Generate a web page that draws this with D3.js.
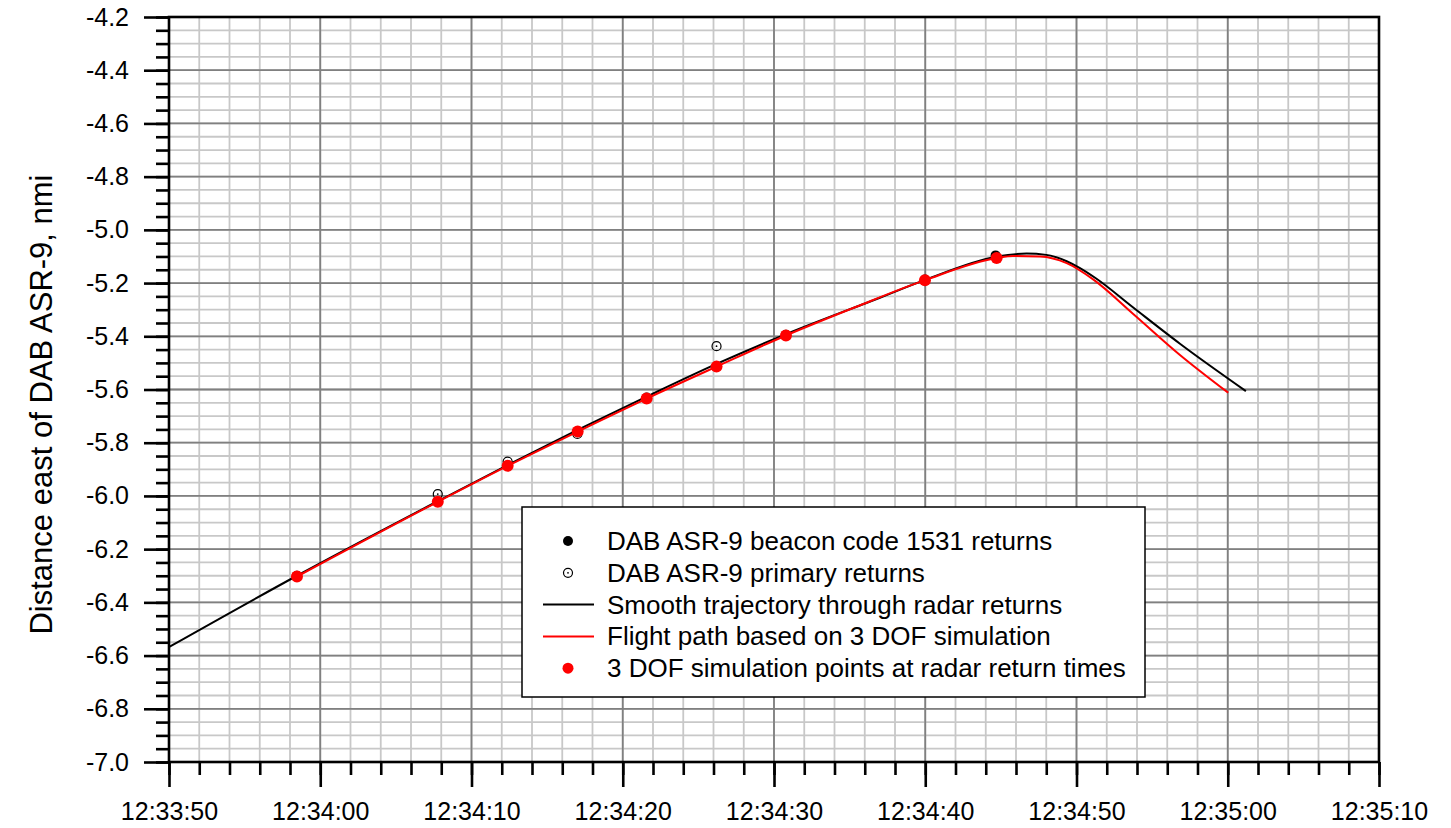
<!DOCTYPE html>
<html>
<head>
<meta charset="utf-8">
<script src="https://cdn.jsdelivr.net/npm/d3@7"></script>
<style>
    body { margin: 0; background: #fff; }
    svg text { font-family: "Liberation Sans", Arial, sans-serif; fill: #000; }
</style>
</head>
<body>
<div id="chart"></div>
<script>
// time axis ticks and labels
const xTickLabels = ["12:33:50", "12:34:00", "12:34:10", "12:34:20", "12:34:30", "12:34:40", "12:34:50", "12:35:00", "12:35:10"];
const yTickValues = [-4.2, -4.4, -4.6, -4.8, -5.0, -5.2, -5.4, -5.6, -5.8, -6.0, -6.2, -6.4, -6.6, -6.8, -7.0];

// DAB ASR-9 beacon code 1531 returns
const beaconTimes = ["12:33:58.46", "12:34:21.58", "12:34:30.79", "12:34:39.98", "12:34:44.65"];
const beaconDist = [-6.300, -5.630, -5.394, -5.187, -5.096];

// DAB ASR-9 primary returns
const primaryTimes = ["12:34:07.77", "12:34:12.39", "12:34:17.00", "12:34:26.20"];
const primaryDist = [-5.993, -5.871, -5.767, -5.437];

// smooth trajectory through radar returns
const smoothTimes = ["12:33:50.00", "12:33:58.46", "12:34:07.77", "12:34:12.39", "12:34:17.02", "12:34:21.58", "12:34:26.20", "12:34:30.79", "12:34:37.00", "12:34:40.00", "12:34:44.70", "12:34:46.70", "12:34:48.00", "12:34:49.35", "12:34:50.20", "12:34:51.30", "12:34:53.75", "12:34:56.84", "12:35:01.20"];
const smoothDist = [-6.568, -6.300, -6.020, -5.884, -5.752, -5.627, -5.504, -5.392, -5.255, -5.188, -5.101, -5.089, -5.094, -5.118, -5.143, -5.183, -5.292, -5.428, -5.606];

// flight path based on 3 DOF simulation
const simPathTimes = ["12:33:58.46", "12:34:07.77", "12:34:12.39", "12:34:17.02", "12:34:21.58", "12:34:26.20", "12:34:30.79", "12:34:35.40", "12:34:39.98", "12:34:44.72", "12:34:45.80", "12:34:47.60", "12:34:49.35", "12:34:51.10", "12:34:53.75", "12:34:56.84", "12:35:00.03"];
const simPathDist = [-6.303, -6.022, -5.887, -5.758, -5.634, -5.514, -5.397, -5.290, -5.189, -5.106, -5.098, -5.100, -5.125, -5.186, -5.316, -5.470, -5.612];

// 3 DOF simulation points at radar return times
const simPointTimes = ["12:33:58.46", "12:34:07.77", "12:34:12.39", "12:34:17.02", "12:34:21.58", "12:34:26.20", "12:34:30.79", "12:34:39.98", "12:34:44.72"];
const simPointDist = [-6.303, -6.022, -5.887, -5.758, -5.634, -5.514, -5.397, -5.189, -5.106];

const legendLabels = [
    "DAB ASR-9 beacon code 1531 returns",
    "DAB ASR-9 primary returns",
    "Smooth trajectory through radar returns",
    "Flight path based on 3 DOF simulation",
    "3 DOF simulation points at radar return times"
];

function parseT(s) {
    const p = s.split(':');
    const sec = parseFloat(p[2]);
    return new Date(2000, 0, 1, +p[0], +p[1], Math.floor(sec), Math.round((sec - Math.floor(sec)) * 1000));
}

const width = 1451, height = 828;
const plotLeft = 169, plotRight = 1379, plotTop = 17, plotBottom = 762;

const svg = d3.select('#chart').append('svg')
    .attr('width', width)
    .attr('height', height);

const x = d3.scaleTime()
    .domain([parseT(xTickLabels[0]), parseT(xTickLabels[xTickLabels.length - 1])])
    .range([plotLeft, plotRight]);

const y = d3.scaleLinear()
    .domain([-7.0, -4.2])
    .range([plotBottom, plotTop]);

const xMajor = xTickLabels.map(parseT);
const xMinor = d3.timeSecond.every(2).range(x.domain()[0], new Date(+x.domain()[1] + 1));
const yMinor = d3.range(0, 57).map(i => -7.0 + i * 0.05);

// grid
const grid = svg.append('g');
grid.selectAll('.vminor').data(xMinor).enter().append('line')
    .attr('x1', d => x(d)).attr('x2', d => x(d))
    .attr('y1', plotTop).attr('y2', plotBottom)
    .attr('stroke', '#c8c8c8').attr('stroke-width', 1.8);
grid.selectAll('.hminor').data(yMinor).enter().append('line')
    .attr('x1', plotLeft).attr('x2', plotRight)
    .attr('y1', d => y(d)).attr('y2', d => y(d))
    .attr('stroke', '#c8c8c8').attr('stroke-width', 1.8);
grid.selectAll('.vmajor').data(xMajor).enter().append('line')
    .attr('x1', d => x(d)).attr('x2', d => x(d))
    .attr('y1', plotTop).attr('y2', plotBottom)
    .attr('stroke', '#808080').attr('stroke-width', 1.8);
grid.selectAll('.hmajor').data(yTickValues).enter().append('line')
    .attr('x1', plotLeft).attr('x2', plotRight)
    .attr('y1', d => y(d)).attr('y2', d => y(d))
    .attr('stroke', '#808080').attr('stroke-width', 1.8);

// axes
function styleAxis(g) {
    g.select('.domain').remove();
    g.selectAll('line').attr('stroke', '#000').attr('stroke-width', 2.6);
    g.selectAll('text').style('font-size', '25px').attr('fill', '#000');
}

svg.append('g').attr('transform', `translate(${plotLeft},0)`)
    .call(d3.axisLeft(y).tickValues(yMinor).tickSize(13).tickFormat(''))
    .call(styleAxis);
svg.append('g').attr('transform', `translate(${plotLeft},0)`)
    .call(d3.axisLeft(y).tickValues(yTickValues).tickSize(25).tickPadding(15).tickFormat(d => d.toFixed(1)))
    .call(styleAxis);

svg.append('g').attr('transform', `translate(0,${plotBottom})`)
    .call(d3.axisBottom(x).tickValues(xMinor).tickSize(13).tickFormat(''))
    .call(styleAxis);
svg.append('g').attr('transform', `translate(0,${plotBottom})`)
    .call(d3.axisBottom(x).tickValues(xMajor).tickSize(25).tickPadding(15).tickFormat((d, i) => xTickLabels[i]))
    .call(styleAxis);

// plot frame
svg.append('rect')
    .attr('x', plotLeft).attr('y', plotTop)
    .attr('width', plotRight - plotLeft).attr('height', plotBottom - plotTop)
    .attr('fill', 'none').attr('stroke', '#000').attr('stroke-width', 2.6);

svg.append('text')
    .attr('transform', `translate(41,${(plotTop + plotBottom) / 2 + 15}) rotate(-90)`)
    .attr('text-anchor', 'middle')
    .attr('dominant-baseline', 'central')
    .style('font-size', '31px')
    .text('Distance east of DAB ASR-9, nmi');

// series
const line = d3.line()
    .x(d => x(d[0]))
    .y(d => y(d[1]))
    .curve(d3.curveMonotoneX);

const plot = svg.append('g');

plot.selectAll('.beacon').data(beaconTimes.map((t, i) => [parseT(t), beaconDist[i]]))
    .enter().append('circle')
    .attr('cx', d => x(d[0])).attr('cy', d => y(d[1]))
    .attr('r', 5).attr('fill', '#000');

plot.selectAll('.primary').data(primaryTimes.map((t, i) => [parseT(t), primaryDist[i]]))
    .enter().append('g')
    .each(function(d) {
        const g = d3.select(this);
        g.append('circle').attr('cx', x(d[0])).attr('cy', y(d[1])).attr('r', 4.5)
            .attr('fill', 'none').attr('stroke', '#000').attr('stroke-width', 1.2);
        g.append('circle').attr('cx', x(d[0])).attr('cy', y(d[1])).attr('r', 0.9).attr('fill', '#000');
    });

plot.append('path')
    .datum(smoothTimes.map((t, i) => [parseT(t), smoothDist[i]]))
    .attr('d', line)
    .attr('fill', 'none').attr('stroke', '#000').attr('stroke-width', 2);

plot.append('path')
    .datum(simPathTimes.map((t, i) => [parseT(t), simPathDist[i]]))
    .attr('d', line)
    .attr('fill', 'none').attr('stroke', '#ff0000').attr('stroke-width', 2);

plot.selectAll('.simpt').data(simPointTimes.map((t, i) => [parseT(t), simPointDist[i]]))
    .enter().append('circle')
    .attr('cx', d => x(d[0])).attr('cy', d => y(d[1]))
    .attr('r', 6).attr('fill', '#ff0000');

// legend
const legend = svg.append('g');
legend.append('rect')
    .attr('x', 522).attr('y', 507)
    .attr('width', 623).attr('height', 190)
    .attr('fill', '#fff').attr('stroke', '#000').attr('stroke-width', 1.5);

const rowY = i => 541 + i * 31.8;
legend.selectAll('text').data(legendLabels).enter().append('text')
    .attr('x', 607).attr('y', (d, i) => rowY(i))
    .attr('dominant-baseline', 'central')
    .style('font-size', '26px')
    .text(d => d);

legend.append('circle').attr('cx', 568).attr('cy', rowY(0)).attr('r', 5).attr('fill', '#000');
legend.append('circle').attr('cx', 568).attr('cy', rowY(1)).attr('r', 4.5)
    .attr('fill', 'none').attr('stroke', '#000').attr('stroke-width', 1.2);
legend.append('circle').attr('cx', 568).attr('cy', rowY(1)).attr('r', 0.9).attr('fill', '#000');
legend.append('line').attr('x1', 543).attr('x2', 594).attr('y1', rowY(2)).attr('y2', rowY(2))
    .attr('stroke', '#000').attr('stroke-width', 2);
legend.append('line').attr('x1', 543).attr('x2', 594).attr('y1', rowY(3)).attr('y2', rowY(3))
    .attr('stroke', '#ff0000').attr('stroke-width', 2);
legend.append('circle').attr('cx', 568).attr('cy', rowY(4)).attr('r', 5.5).attr('fill', '#ff0000');
</script>
</body>
</html>
